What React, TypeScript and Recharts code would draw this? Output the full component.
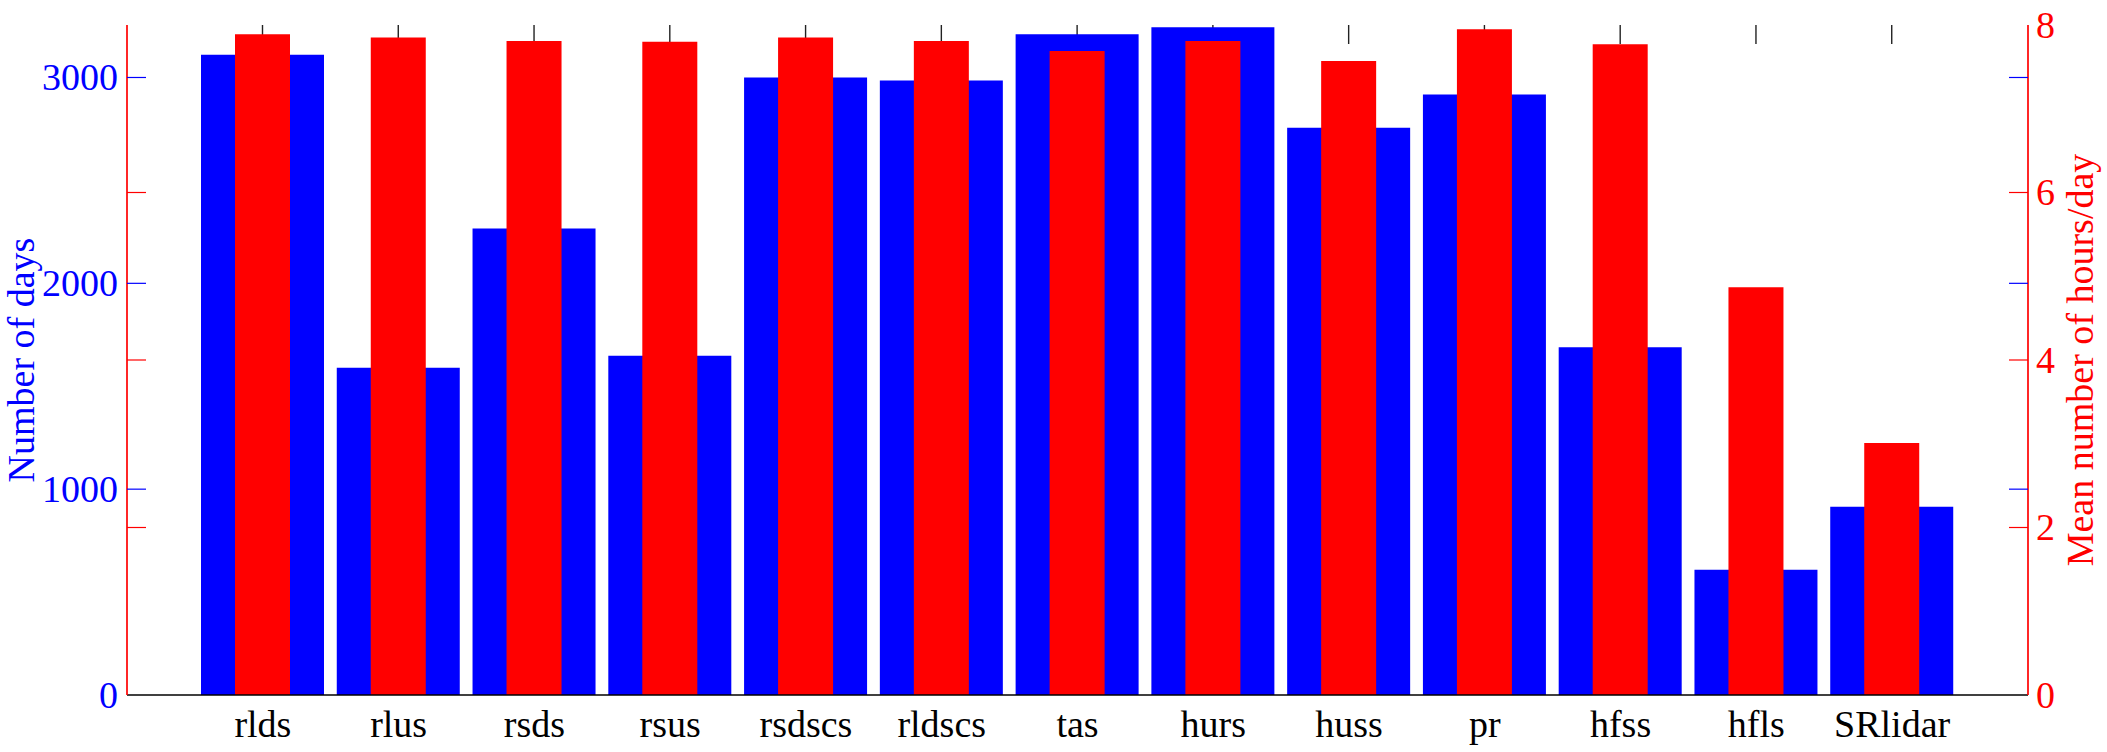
import { ComposedChart, Bar, XAxis, YAxis } from "recharts";

const categories = [
  "rlds", "rlus", "rsds", "rsus", "rsdscs", "rldscs", "tas",
  "hurs", "huss", "pr", "hfss", "hfls", "SRlidar",
];
const daysValues  = [3111, 1590, 2266, 1648, 3000, 2985, 3210, 3244, 2756, 2917, 1689, 609, 914];
const hoursValues = [7.89, 7.85, 7.81, 7.80, 7.85, 7.81, 7.69, 7.81, 7.57, 7.95, 7.77, 4.87, 3.01];
const daysTicks  = [0, 1000, 2000, 3000];
const hoursTicks = [0, 2, 4, 6, 8];

const data = categories.map((name, i) => ({
  name,
  days:  daysValues[i],
  hours: hoursValues[i],
}));

// layout
const W = 2107;
const H = 752;
const LEFT_W = 127;
const RIGHT_W = 79;
const TOP = 25;
const BOTTOM_H = 57;
const PLOT_L = LEFT_W;
const PLOT_R = W - RIGHT_W;
const TICK = 19;
const FONT = '"Liberation Serif", "Times New Roman", Times, serif';
const BLUE = "#0000ff";
const RED = "#ff0000";

function DaysTick({ y, payload }: any) {
  const inner = payload.value !== 0;
  return (
    <g>
      {inner && <line x1={PLOT_L} x2={PLOT_L + TICK} y1={y} y2={y} stroke={BLUE} strokeWidth={1.2} />}
      {inner && <line x1={PLOT_R - TICK} x2={PLOT_R} y1={y} y2={y} stroke={BLUE} strokeWidth={1.2} />}
      <text x={PLOT_L - 9} y={y} dy="0.34em" textAnchor="end" fill={BLUE} fontSize={38} fontFamily={FONT}>
        {payload.value}
      </text>
    </g>
  );
}

function HoursTick({ y, payload }: any) {
  const inner = payload.value !== 0 && payload.value !== 8;
  return (
    <g>
      {inner && <line x1={PLOT_L} x2={PLOT_L + TICK} y1={y} y2={y} stroke={RED} strokeWidth={1.2} />}
      {inner && <line x1={PLOT_R - TICK} x2={PLOT_R} y1={y} y2={y} stroke={RED} strokeWidth={1.2} />}
      <text x={PLOT_R + 8} y={y} dy="0.34em" textAnchor="start" fill={RED} fontSize={38} fontFamily={FONT}>
        {payload.value}
      </text>
    </g>
  );
}

function CatTick({ x, y, payload }: any) {
  return (
    <text x={x} y={y} dy={42} textAnchor="middle" fill="#000" fontSize={38} fontFamily={FONT}>
      {payload.value}
    </text>
  );
}

// top tick marks drawn as bar background so the bars cover them
function TopTick({ x, y, width }: any) {
  const cx = x + width / 2;
  return <line x1={cx} x2={cx} y1={y} y2={y + TICK} stroke="#222" strokeWidth={1.4} />;
}

function DaysLabel({ viewBox }: any) {
  const bx = viewBox.x + 34;
  const cy = viewBox.y + viewBox.height / 2;
  return (
    <text x={bx} y={cy} transform={`rotate(-90 ${bx} ${cy})`} textAnchor="middle"
      fill={BLUE} fontSize={38} fontFamily={FONT}>
      Number of days
    </text>
  );
}

function HoursLabel({ viewBox }: any) {
  const bx = viewBox.x + 64.5;
  const cy = viewBox.y + viewBox.height / 2;
  return (
    <text x={bx} y={cy} transform={`rotate(-90 ${bx} ${cy})`} textAnchor="middle"
      fill={RED} fontSize={38} fontFamily={FONT}>
      Mean number of hours/day
    </text>
  );
}

export default function App() {
  return (
    <div style={{ position: "absolute", left: 0, top: 0, width: W, height: H, background: "#fff" }}>
      <ComposedChart width={W} height={H} data={data} margin={{ top: TOP, right: 0, bottom: 0, left: 0 }}>
        <XAxis
          xAxisId="top"
          orientation="top"
          dataKey="name"
          height={0}
          tick={false}
          tickLine={false}
          axisLine={{ stroke: "#000", strokeWidth: 1.5 }}
        />
        <XAxis
          xAxisId="blue"
          dataKey="name"
          height={BOTTOM_H}
          padding={{ left: 68, right: 68 }}
          interval={0}
          tickSize={0}
          tickMargin={0}
          tickLine={false}
          axisLine={{ stroke: "#000", strokeWidth: 1.5 }}
          tick={CatTick}
        />
        <XAxis xAxisId="red" dataKey="name" hide padding={{ left: 68, right: 68 }} />
        <YAxis
          yAxisId="days"
          orientation="left"
          width={LEFT_W}
          domain={[0, 3255]}
          ticks={daysTicks}
          interval={0}
          tickSize={0}
          tickMargin={0}
          tickLine={false}
          axisLine={{ stroke: RED, strokeWidth: 1.7 }}
          tick={DaysTick}
          label={{ content: DaysLabel }}
        />
        <YAxis
          yAxisId="hours"
          orientation="right"
          width={RIGHT_W}
          domain={[0, 8]}
          ticks={hoursTicks}
          interval={0}
          tickSize={0}
          tickMargin={0}
          tickLine={false}
          axisLine={{ stroke: RED, strokeWidth: 1.7 }}
          tick={HoursTick}
          label={{ content: HoursLabel }}
        />
        <Bar
          xAxisId="blue"
          yAxisId="days"
          dataKey="days"
          fill={BLUE}
          barSize={123}
          background={TopTick}
          isAnimationActive={false}
        />
        <Bar
          xAxisId="red"
          yAxisId="hours"
          dataKey="hours"
          fill={RED}
          barSize={55}
          isAnimationActive={false}
        />
      </ComposedChart>
    </div>
  );
}
